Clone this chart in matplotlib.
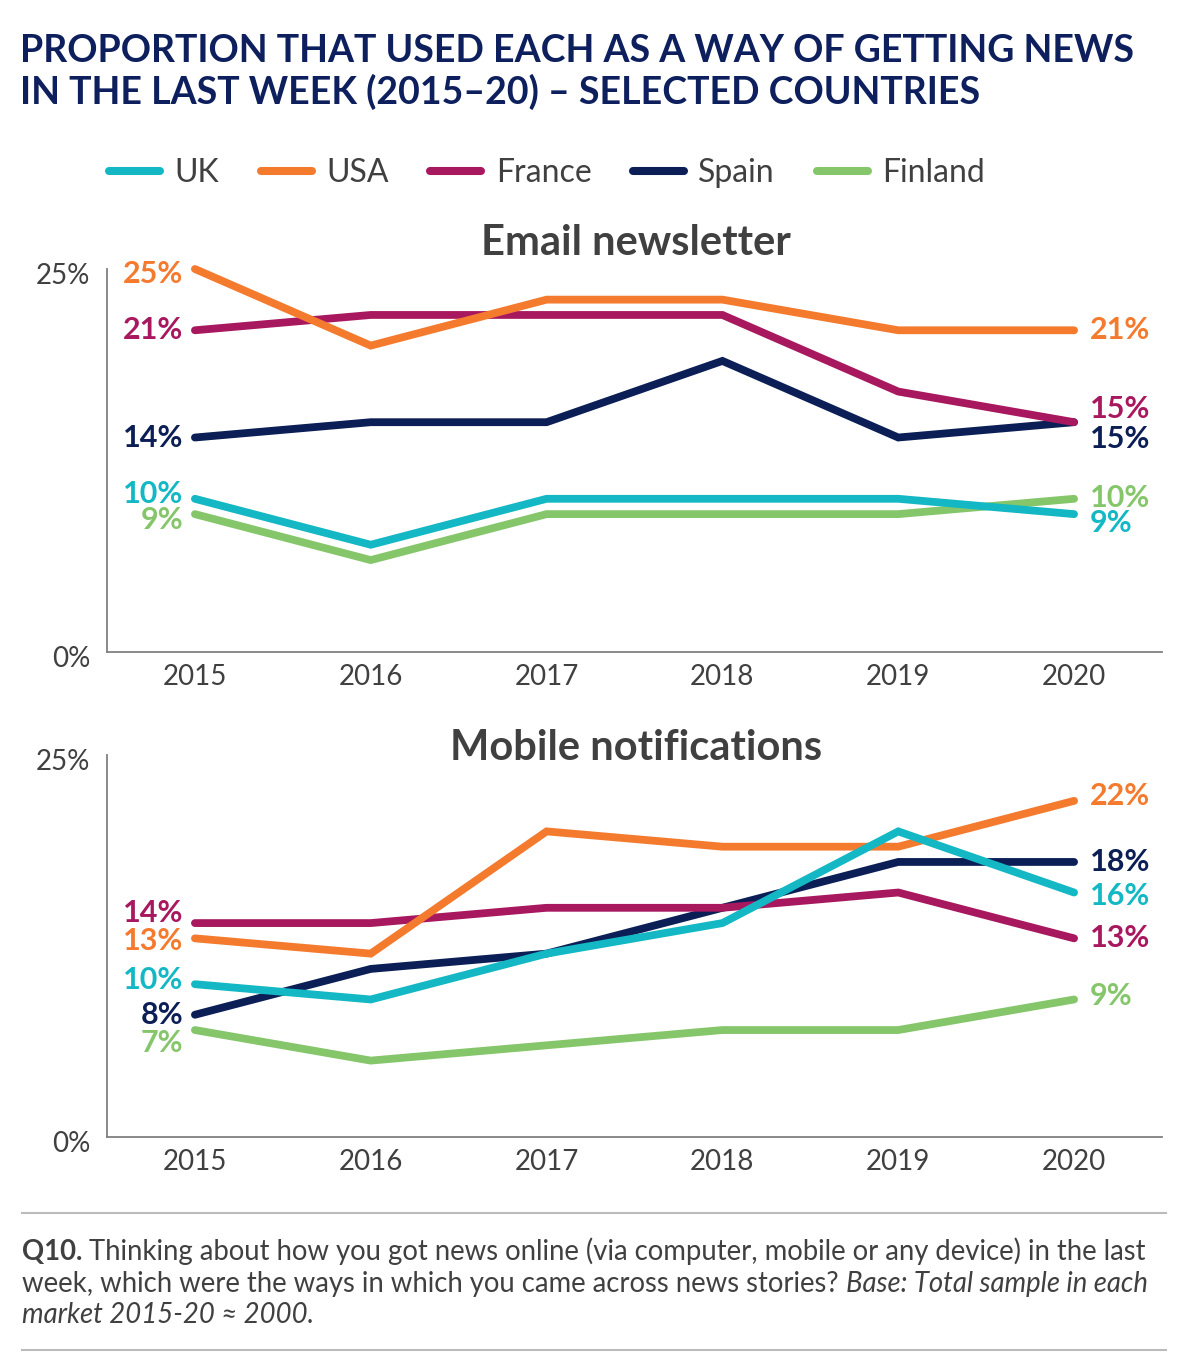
import matplotlib
matplotlib.use("Agg")
import matplotlib.pyplot as plt

plt.rcParams["font.family"] = ["Lato", "DejaVu Sans"]

# ── data ──
years = ["2015", "2016", "2017", "2018", "2019", "2020"]
countries = ["UK", "USA", "France", "Spain", "Finland"]

email_uk = [10, 7, 10, 10, 10, 9]
email_usa = [25, 20, 23, 23, 21, 21]
email_france = [21, 22, 22, 22, 17, 15]
email_spain = [14, 15, 15, 19, 14, 15]
email_finland = [9, 6, 9, 9, 9, 10]

mobile_uk = [10, 9, 12, 14, 20, 16]
mobile_usa = [13, 12, 20, 19, 19, 22]
mobile_france = [14, 14, 15, 15, 16, 13]
mobile_spain = [8, 11, 12, 15, 18, 18]
mobile_finland = [7, 5, 6, 7, 7, 9]

colors = {"UK": "#13B8C4", "USA": "#F47A2E", "France": "#A8185F",
          "Spain": "#0B1E55", "Finland": "#85C66B"}

# vertical nudges (pixels) for the end labels so they don't collide: (left, right)
email_nudge = {"UK": (5, -9), "USA": (-5, 0), "France": (0, 13),
               "Spain": (0, -17), "Finland": (-6, 1)}
mobile_nudge = {"UK": (4, -3), "USA": (-3, 5), "France": (10, 0),
                "Spain": (0, 0), "Finland": (-13, 3)}

TEXT = "#404040"
W, H = 1188, 1362
fig = plt.figure(figsize=(W / 100, H / 100), dpi=100)


def panel(rect, title, series, nudge, title_y):
    ax = fig.add_axes(rect)
    x = range(len(years))
    z = 10
    for name in countries:
        vals = series[name]
        ax.plot(x, vals, color=colors[name], lw=5.6, solid_capstyle="round",
                solid_joinstyle="miter", clip_on=False, zorder=z, label=name)
        z -= 1
        dl, dr = nudge[name]
        ax.annotate(f"{vals[0]}%", (0, vals[0]), xytext=(-12, dl),
                    textcoords="offset pixels", ha="right", va="center",
                    fontsize=22, fontweight="bold", color=colors[name])
        ax.annotate(f"{vals[-1]}%", (len(years) - 1, vals[-1]), xytext=(16, dr),
                    textcoords="offset pixels", ha="left", va="center",
                    fontsize=22, fontweight="bold", color=colors[name])
    ax.set_xlim(-0.5, len(years) - 0.5)
    ax.set_ylim(0, 25)
    ax.set_xticks(list(x))
    ax.set_xticklabels(years, fontsize=20, color=TEXT)
    ax.set_yticks([0, 25])
    ax.set_yticklabels(["0%", "25%"], fontsize=20, color=TEXT)
    ax.tick_params(length=0)
    ax.tick_params(axis="x", pad=9)
    ax.tick_params(axis="y", pad=12)
    for lab in ax.get_yticklabels():
        lab.set_transform(lab.get_transform() +
                          matplotlib.transforms.ScaledTranslation(0, -0.05, fig.dpi_scale_trans))
    for s in ["top", "right"]:
        ax.spines[s].set_visible(False)
    for s in ["left", "bottom"]:
        ax.spines[s].set_color("#808080")
        ax.spines[s].set_linewidth(1.3)
    fig.text(0.535, title_y, title, ha="center", va="center", fontsize=30,
             fontweight="bold", color=TEXT)
    return ax


email = {"UK": email_uk, "USA": email_usa, "France": email_france,
         "Spain": email_spain, "Finland": email_finland}
mobile = {"UK": mobile_uk, "USA": mobile_usa, "France": mobile_france,
          "Spain": mobile_spain, "Finland": mobile_finland}

ax1 = panel([107 / W, 1 - 652 / H, 1055 / W, 383 / H], "Email newsletter",
            email, email_nudge, 1 - 243 / H)
ax2 = panel([107 / W, 1 - 1137 / H, 1055 / W, 382 / H], "Mobile notifications",
            mobile, mobile_nudge, 1 - 748 / H)

# ── legend ──
handles, labels = ax1.get_legend_handles_labels()
leg = fig.legend(handles, labels, loc="center left", bbox_to_anchor=(109 / W, 1 - 173 / H),
                 ncol=5, frameon=False, fontsize=23, handlelength=1.6,
                 handletextpad=0.45, columnspacing=1.3, borderpad=0, borderaxespad=0)
for t in leg.get_texts():
    t.set_color(TEXT)
for l in leg.get_lines():
    l.set_linewidth(5.8)
    l.set_solid_capstyle("round")

# ── title ──
fig.text(20 / W, 1 - 62 / H, "PROPORTION THAT USED EACH AS A WAY OF GETTING NEWS",
         fontsize=27, fontweight="bold", color="#0D1F5C", va="baseline")
fig.text(20 / W, 1 - 104 / H, "IN THE LAST WEEK (2015–20) – SELECTED COUNTRIES",
         fontsize=27, fontweight="bold", color="#0D1F5C", va="baseline")

# ── footer ──
fig.add_artist(plt.Line2D([22 / W, 1166 / W], [1 - 1213 / H, 1 - 1213 / H],
                          color="#BBBBBB", lw=1.5))
fig.add_artist(plt.Line2D([22 / W, 1166 / W], [1 - 1350 / H, 1 - 1350 / H],
                          color="#BBBBBB", lw=1.5))

renderer = fig.canvas.get_renderer()


def runs(y, parts):
    x = 22 / W
    for txt, weight, style in parts:
        t = fig.text(x, 1 - y / H, txt, fontsize=19.8, color=TEXT, fontweight=weight,
                     fontstyle=style, va="baseline")
        bb = t.get_window_extent(renderer)
        x = bb.x1 / W


runs(1260, [("Q10.", "bold", "normal"),
            (" Thinking about how you got news online (via computer, mobile or any device) in the last",
             "normal", "normal")])
runs(1292, [("week, which were the ways in which you came across news stories? ", "normal", "normal"),
            ("Base: Total sample in each", "normal", "italic")])
runs(1323, [("market 2015-20 ≈ 2000.", "normal", "italic")])

fig.savefig("out.png", dpi=100)
